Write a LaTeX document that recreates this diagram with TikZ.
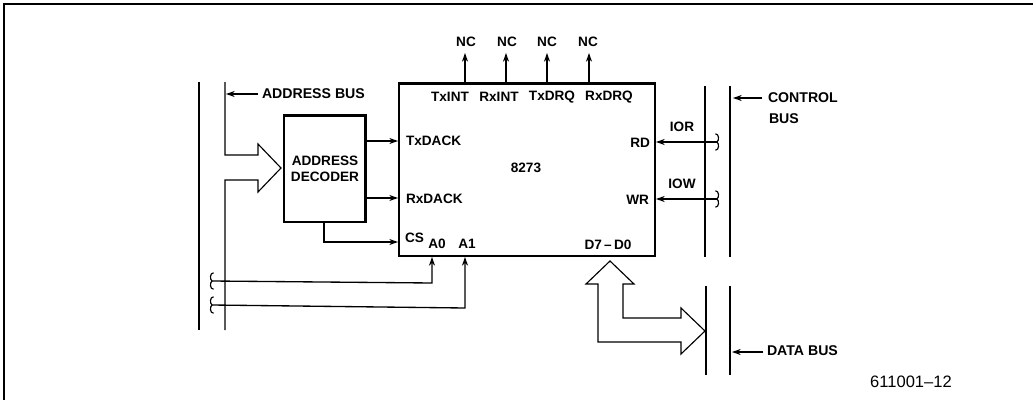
\documentclass[tikz,border=0pt]{standalone}
\usepackage{fontspec}
\setmainfont{Liberation Sans}
\usetikzlibrary{arrows.meta}
\tikzset{
  wire/.style={line width=1pt,black},
  sig/.style={wire,-{Stealth[length=6.5pt,width=4.5pt]}},
  thin bus/.style={line width=0.85pt,black},
  hollow/.style={line width=0.85pt,black,line join=miter},
  lab/.style={inner sep=0pt,outer sep=0pt,font=\fontsize{10.2}{12}\selectfont\bfseries,text=black},
  labw/.style={lab,font=\fontsize{10.6}{12}\selectfont\bfseries},
  note/.style={inner sep=0pt,outer sep=0pt,font=\fontsize{12.4}{14}\selectfont,text=black},
  chipbox/.style={draw=black,line width=1.7pt,inner sep=0pt,outer sep=0pt,minimum width=192pt,minimum height=129.5pt},
  decbox/.style={draw=black,line width=2pt,inner sep=0pt,outer sep=0pt,minimum width=61pt,minimum height=80pt},
  brk/.style={line width=0.85pt,black}
}
% #1 anchor point, #2 = +1 when the mark opens to the right, -1 to the left
\newcommand{\brkmark}[2]{\draw[brk] ([xshift=#2*1.2pt,yshift=6.2pt]#1) .. controls ([xshift=#2*-1.8pt,yshift=6pt]#1) and ([xshift=#2*-1.6pt,yshift=1pt]#1) .. (#1) .. controls ([xshift=#2*-1.6pt,yshift=-1pt]#1) and ([xshift=#2*-1.8pt,yshift=-6pt]#1) .. ([xshift=#2*1.2pt,yshift=-6.2pt]#1);}
\begin{document}
\begin{tikzpicture}[x=0.75pt,y=-0.75pt]
\useasboundingbox (0,0) rectangle (1033,400);
% frame
\coordinate (fa) at (4,400); \coordinate (fb) at (4,4); \coordinate (fc) at (1033,4);
\draw[line width=1.4pt,black] (fa) -- (fb) -- (fc);
% main boxes
\node[chipbox] (chip) at (527,169.7) {};
\node[decbox] (dec) at (324.5,168.5) {};
\node[lab,align=center] (dectext) at (325,169) {ADDRESS\\[0.4pt]DECODER};
\node[lab] (ic) at (526,168) {8273};
% pin labels
\node[lab] (txint) at (450,97) {TxINT};
\node[lab] (rxint) at (499,97) {RxINT};
\node[lab] (txdrq) at (552,97) {TxDRQ};
\node[lab] (rxdrq) at (609,97) {RxDRQ};
\node[lab,anchor=west] (txdack) at (406,141) {TxDACK};
\node[lab,anchor=west] (rxdack) at (406,199) {RxDACK};
\node[lab,anchor=west] (cs) at (405,238) {CS};
\node[lab] (a0) at (437,244) {A0};
\node[lab] (a1) at (467,244) {A1};
\node[lab] (d70) at (608,245) {D7\,–\,D0};
\node[lab,anchor=east] (rd) at (650,143) {RD};
\node[lab,anchor=east] (wr) at (649,200) {WR};
\node[lab] (ior) at (682,127) {IOR};
\node[lab] (iow) at (682,184) {IOW};
% NC
\node[lab] (nc1) at (466,42) {NC};
\node[lab] (nc2) at (507,42) {NC};
\node[lab] (nc3) at (547,42) {NC};
\node[lab] (nc4) at (588,42) {NC};
\coordinate (t1) at (465,83); \coordinate (t2) at (506,83); \coordinate (t3) at (547,83); \coordinate (t4) at (589,83);
\coordinate (u1) at (465,53); \coordinate (u2) at (506,53); \coordinate (u3) at (547,53); \coordinate (u4) at (589,53);
\draw[sig] (t1) -- (u1);
\draw[sig] (t2) -- (u2);
\draw[sig] (t3) -- (u3);
\draw[sig] (t4) -- (u4);
% bus labels
\node[labw,anchor=west] (abus) at (262,94) {ADDRESS BUS};
\node[labw,anchor=west] (cbus) at (768,98) {CONTROL};
\node[labw,anchor=west] (cbus2) at (769,119) {BUS};
\node[labw,anchor=west] (dbus) at (767,351) {DATA BUS};
\node[note] (fig) at (911,382) {611001–12};
% address bus rails
\coordinate (al1) at (199,82); \coordinate (al2) at (199,330);
\draw[thin bus] (al1) -- (al2);
\coordinate (ar1) at (225,82); \coordinate (ar2) at (225,330);
\coordinate (abt) at (226,94);
\coordinate (abs) at (258,94);
\draw[sig] (abs) -- (abt);
\draw[hollow] (ar1) -- (225,155) -- (258,155) -- (258,144) -- (281,168) -- (258,192) -- (258,180) -- (225,180) -- (ar2);
% decoder outputs
\coordinate (q1) at (365,141); \coordinate (p1) at (398,141);
\coordinate (q2) at (365,198); \coordinate (p2) at (398,198);
\coordinate (q3) at (324,222); \coordinate (p3) at (398,242);
\draw[sig] (q1) -- (p1);
\draw[sig] (q2) -- (p2);
\draw[sig] (q3) |- (p3);
% A0 A1
\coordinate (b0) at (212,281); \coordinate (b1) at (212,305);
\coordinate (pa0) at (432,257); \coordinate (pa1) at (465,257);
\draw[sig] (b0) -- (432,283) -- (pa0);
\draw[sig] (b1) -- (465,308) -- (pa1);
\brkmark{b0}{1}
\brkmark{b1}{1}
% control bus rails
\coordinate (cl1) at (705,86); \coordinate (cl2) at (705,257);
\coordinate (cr1) at (730,86); \coordinate (cr2) at (730,257);
\draw[thin bus] (cl1) -- (cl2);
\draw[thin bus] (cr1) -- (cr2);
\coordinate (cbs) at (762,98); \coordinate (cbt) at (733,98);
\draw[sig] (cbs) -- (cbt);
\coordinate (c0) at (717,142); \coordinate (c1) at (717,199);
\coordinate (prd) at (656,142); \coordinate (pwr) at (656,199);
\draw[sig] (c0) -- (prd);
\draw[sig] (c1) -- (pwr);
\brkmark{c0}{-1}
\brkmark{c1}{-1}
% data bus rails
\coordinate (dl1) at (706,286); \coordinate (dl2) at (706,375);
\coordinate (dr1) at (730,286); \coordinate (dr2) at (730,375);
\draw[thin bus] (dl1) -- (dl2);
\draw[thin bus] (dr1) -- (dr2);
\coordinate (dbs) at (763,352); \coordinate (dbt) at (732,352);
\draw[sig] (dbs) -- (dbt);
\draw[hollow] (610,261) -- (586,284) -- (598,284) -- (598,342) -- (681,342) -- (681,354) -- (705,331) -- (681,308) -- (681,318) -- (623,318) -- (623,284) -- (634,284) -- cycle;
\end{tikzpicture}
\end{document}
